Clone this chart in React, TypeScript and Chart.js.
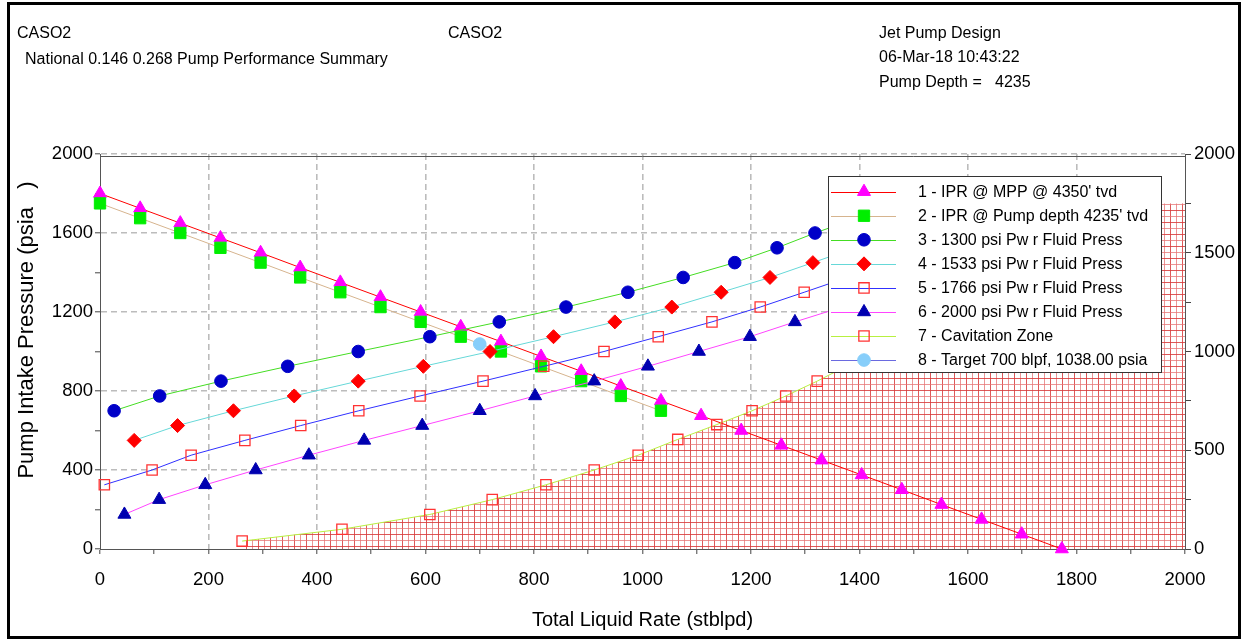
import React, { useEffect, useRef } from 'react';
import { Chart, registerables } from 'chart.js';

Chart.register(...registerables);

const FONT = "'Liberation Sans', Arial, Helvetica, sans-serif";

// ---------------- data ----------------
const iprMppRate = [0, 74, 148, 222, 296, 369, 443, 517, 591, 665, 739, 813, 887, 960, 1034, 1108, 1182, 1256, 1330, 1404, 1478, 1551, 1625, 1699, 1773];
const iprMppPressure = [1800, 1725, 1650, 1575, 1500, 1425, 1350, 1275, 1200, 1125, 1050, 975, 900, 825, 750, 675, 600, 525, 450, 375, 300, 225, 150, 75, 0];

const iprPumpRate = [0, 74, 148, 222, 296, 369, 443, 517, 591, 665, 739, 813, 887, 960, 1034];
const iprPumpPressure = [1750, 1675, 1600, 1525, 1450, 1375, 1300, 1225, 1150, 1075, 1000, 925, 850, 775, 700];

const pwf1300Rate = [26, 110, 223, 346, 476, 608, 736, 859, 973, 1075, 1170, 1248, 1318, 1395];
const pwf1300Pressure = [700, 775, 850, 925, 1000, 1075, 1150, 1225, 1300, 1375, 1450, 1525, 1600, 1675];

const pwf1533Rate = [63, 143, 246, 358, 476, 596, 719, 836, 949, 1054, 1145, 1235, 1314, 1392];
const pwf1533Pressure = [550, 625, 700, 775, 850, 925, 1000, 1075, 1150, 1225, 1300, 1375, 1450, 1525];

const pwf1766Rate = [8, 96, 168, 267, 370, 477, 590, 706, 818, 929, 1029, 1128, 1217, 1298, 1378];
const pwf1766Pressure = [325, 400, 475, 550, 625, 700, 775, 850, 925, 1000, 1075, 1150, 1225, 1300, 1375];

const pwf2000Rate = [45, 109, 194, 287, 385, 487, 594, 700, 802, 911, 1010, 1104, 1198, 1281, 1368];
const pwf2000Pressure = [175, 250, 325, 400, 475, 550, 625, 700, 775, 850, 925, 1000, 1075, 1150, 1225];

const cavitationRate = [262, 446, 608, 723, 822, 911, 992, 1065, 1137, 1202, 1264, 1322, 1400, 1560, 1700];
const cavitationPressure = [40, 100, 175, 250, 325, 400, 475, 555, 630, 700, 775, 850, 960, 1250, 1750];
const cavitationCap = 1750;

const targetRate = [700];
const targetPressure = [1038];

const seriesLabels = [
  "1 - IPR @ MPP @ 4350' tvd",
  "2 - IPR @ Pump depth 4235' tvd",
  '3 - 1300 psi Pw r Fluid Press',
  '4 - 1533 psi Pw r Fluid Press',
  '5 - 1766 psi Pw r Fluid Press',
  '6 - 2000 psi Pw r Fluid Press',
  '7 - Cavitation Zone',
  '8 - Target 700 blpf, 1038.00 psia',
];

const xTitle = 'Total Liquid Rate (stblpd)';
const yTitle = 'Pump Intake Pressure (psia   )';

// ---------------- helpers ----------------
type Style = 'triangle' | 'rect' | 'circle' | 'rectRot';

function drawMarker(ctx: CanvasRenderingContext2D, style: Style, x: number, y: number, r: number, fill: string, stroke: string, lw: number) {
  ctx.save();
  ctx.beginPath();
  if (style === 'triangle') {
    ctx.moveTo(x, y - r);
    ctx.lineTo(x + 0.866 * r, y + 0.5 * r);
    ctx.lineTo(x - 0.866 * r, y + 0.5 * r);
    ctx.closePath();
  } else if (style === 'rect') {
    const s = Math.SQRT1_2 * r;
    ctx.rect(x - s, y - s, 2 * s, 2 * s);
  } else if (style === 'rectRot') {
    ctx.moveTo(x - r, y);
    ctx.lineTo(x, y - r);
    ctx.lineTo(x + r, y);
    ctx.lineTo(x, y + r);
    ctx.closePath();
  } else {
    ctx.arc(x, y, r, 0, Math.PI * 2);
  }
  if (fill !== 'none') {
    ctx.fillStyle = fill;
    ctx.fill();
  }
  ctx.lineWidth = lw;
  ctx.strokeStyle = stroke;
  ctx.stroke();
  ctx.restore();
}

interface SeriesDef {
  rate: number[];
  pressure: number[];
  line: string;
  style: Style;
  fill: string;
  stroke: string;
  radius: number;
  lw: number;
  showLine: boolean;
}

const series: SeriesDef[] = [
  { rate: iprMppRate, pressure: iprMppPressure, line: '#ff0000', style: 'triangle', fill: '#ff00ff', stroke: '#ff00ff', radius: 7.5, lw: 1, showLine: true },
  { rate: iprPumpRate, pressure: iprPumpPressure, line: '#d6b48e', style: 'rect', fill: '#00ee00', stroke: '#00ee00', radius: 8, lw: 1, showLine: true },
  { rate: pwf1300Rate, pressure: pwf1300Pressure, line: '#44dd22', style: 'circle', fill: '#0000c8', stroke: '#0000c8', radius: 6.3, lw: 1, showLine: true },
  { rate: pwf1533Rate, pressure: pwf1533Pressure, line: '#66d8d8', style: 'rectRot', fill: '#ff0000', stroke: '#ff0000', radius: 7, lw: 1, showLine: true },
  { rate: pwf1766Rate, pressure: pwf1766Pressure, line: '#3030ff', style: 'rect', fill: 'none', stroke: '#ff3333', radius: 7.3, lw: 1.3, showLine: true },
  { rate: pwf2000Rate, pressure: pwf2000Pressure, line: '#ff44ff', style: 'triangle', fill: '#0000b0', stroke: '#0000b0', radius: 7.5, lw: 1, showLine: true },
  { rate: cavitationRate, pressure: cavitationPressure, line: '#b8f040', style: 'rect', fill: 'none', stroke: '#ff3333', radius: 7.3, lw: 1.3, showLine: true },
  { rate: targetRate, pressure: targetPressure, line: '#6a6ae0', style: 'circle', fill: '#87cefa', stroke: '#87cefa', radius: 6.3, lw: 1, showLine: false },
];

const zonePlugin = {
  id: 'cavitationZone',
  beforeDatasetsDraw(chart: any) {
    const { ctx, chartArea: a, scales } = chart;
    const x = scales.x;
    const y = scales.y;
    ctx.save();
    ctx.beginPath();
    ctx.rect(a.left, a.top, a.right - a.left, a.bottom - a.top);
    ctx.clip();
    ctx.beginPath();
    ctx.moveTo(x.getPixelForValue(cavitationRate[0]), y.getPixelForValue(0));
    for (let i = 0; i < cavitationRate.length; i++) {
      ctx.lineTo(x.getPixelForValue(cavitationRate[i]), y.getPixelForValue(cavitationPressure[i]));
    }
    ctx.lineTo(x.getPixelForValue(x.max), y.getPixelForValue(cavitationCap));
    ctx.lineTo(x.getPixelForValue(x.max), y.getPixelForValue(0));
    ctx.closePath();
    ctx.fillStyle = '#ffffff';
    ctx.fill();
    ctx.save();
    ctx.clip();
    ctx.lineWidth = 1;
    const step = 6;
    let k = 0;
    for (let gx = Math.round(a.left) + 2; gx <= a.right; gx += step, k++) {
      ctx.strokeStyle = k % 2 ? 'rgba(230,115,115,0.75)' : 'rgba(215,60,60,0.85)';
      ctx.beginPath();
      ctx.moveTo(gx + 0.5, a.top);
      ctx.lineTo(gx + 0.5, a.bottom);
      ctx.stroke();
    }
    k = 0;
    for (let gy = Math.round(a.bottom) - 3; gy >= a.top; gy -= step, k++) {
      ctx.strokeStyle = k % 2 ? 'rgba(230,115,115,0.75)' : 'rgba(215,60,60,0.85)';
      ctx.beginPath();
      ctx.moveTo(a.left, gy + 0.5);
      ctx.lineTo(a.right, gy + 0.5);
      ctx.stroke();
    }
    ctx.restore();
    ctx.strokeStyle = '#555';
    ctx.lineWidth = 1;
    ctx.stroke();
    ctx.restore();
  },
};

const overlayPlugin = {
  id: 'overlay',
  afterDraw(chart: any) {
    const { ctx } = chart;
    // y-axis title
    ctx.save();
    ctx.translate(27, 330);
    ctx.rotate(-Math.PI / 2);
    ctx.font = `22px ${FONT}`;
    ctx.fillStyle = '#000';
    ctx.textAlign = 'center';
    ctx.textBaseline = 'middle';
    ctx.fillText(yTitle, 0, 0);
    ctx.restore();

    // legend box
    const L = 828, T = 176, R = 1162, B = 373;
    ctx.save();
    ctx.fillStyle = '#ffffff';
    ctx.fillRect(L, T, R - L, B - T);
    ctx.strokeStyle = '#333';
    ctx.lineWidth = 1;
    ctx.strokeRect(L + 0.5, T + 0.5, R - L - 1, B - T - 1);
    ctx.font = `16px ${FONT}`;
    ctx.textBaseline = 'middle';
    ctx.textAlign = 'left';
    seriesLabels.forEach((label, i) => {
      const s = series[i];
      const ry = 191.7 + i * 24.05;
      ctx.strokeStyle = s.line;
      ctx.lineWidth = 1;
      ctx.beginPath();
      ctx.moveTo(831, Math.round(ry) + 0.5);
      ctx.lineTo(896, Math.round(ry) + 0.5);
      ctx.stroke();
      drawMarker(ctx, s.style, 864, ry, s.radius, s.fill, s.stroke, s.lw);
      ctx.fillStyle = '#000';
      ctx.fillText(label, 918, ry + 1);
    });
    ctx.restore();
  },
};

export default function App() {
  const canvasRef = useRef<HTMLCanvasElement>(null);

  useEffect(() => {
    const canvas = canvasRef.current;
    if (!canvas) return;

    const n = series.length;
    const datasets = series.map((s, i) => ({
      label: seriesLabels[i],
      data: s.rate.map((r, j) => ({ x: r, y: s.pressure[j] })),
      showLine: s.showLine,
      borderColor: s.line,
      borderWidth: 1,
      backgroundColor: s.fill === 'none' ? 'rgba(0,0,0,0)' : s.fill,
      pointStyle: s.style,
      pointRadius: s.radius,
      pointHoverRadius: s.radius,
      pointBackgroundColor: s.fill === 'none' ? 'rgba(0,0,0,0)' : s.fill,
      pointBorderColor: s.stroke,
      pointBorderWidth: s.lw,
      tension: 0,
      fill: false,
      clip: false as any,
      order: n - i,
    }));

    const tickFont = { family: FONT, size: 18.5 };

    const chart = new Chart(canvas, {
      type: 'scatter',
      data: { datasets },
      options: {
        responsive: false,
        maintainAspectRatio: false,
        animation: false,
        events: [],
        layout: { padding: { top: 154, left: 0, right: 0, bottom: 0 } },
        plugins: {
          legend: { display: false },
          tooltip: { enabled: false },
          title: { display: false },
        },
        scales: {
          x: {
            type: 'linear',
            position: 'bottom',
            min: 0,
            max: 2000,
            afterFit: (s: any) => { s.height = 91; },
            ticks: {
              stepSize: 100,
              autoSkip: false,
              maxRotation: 0,
              minRotation: 0,
              padding: 15,
              color: '#000',
              font: tickFont,
              callback: (v: any) => (Number(v) % 200 === 0 ? String(v) : ''),
            },
            grid: {
              color: (c: any) => {
                const v = c.tick ? c.tick.value : -1;
                return v % 200 === 0 && v > 0 && v < 2000 ? '#bcbcbc' : 'rgba(0,0,0,0)';
              },
              lineWidth: 1.6,
              tickLength: 5,
              tickColor: '#444',
              tickWidth: 1,
            },
            border: { display: true, color: '#555', width: 1, dash: [6, 4] },
            title: {
              display: true,
              text: xTitle,
              color: '#000',
              font: { family: FONT, size: 20 },
              padding: { top: 0, bottom: 8 },
            },
          },
          y: {
            type: 'linear',
            position: 'left',
            min: 0,
            max: 2000,
            afterFit: (s: any) => { s.width = 100; },
            ticks: {
              stepSize: 200,
              autoSkip: false,
              padding: 2,
              color: '#000',
              font: tickFont,
              callback: (v: any) => (Number(v) % 400 === 0 ? String(v) : ''),
            },
            grid: {
              color: (c: any) => {
                const v = c.tick ? c.tick.value : -1;
                return v % 400 === 0 && v > 0 ? '#bcbcbc' : 'rgba(0,0,0,0)';
              },
              lineWidth: 1.6,
              tickLength: 5,
              tickColor: '#444',
              tickWidth: 1,
            },
            border: { display: true, color: '#555', width: 1, dash: [6, 4] },
          },
          y2: {
            type: 'linear',
            position: 'right',
            min: 0,
            max: 2000,
            afterFit: (s: any) => { s.width = 58; },
            ticks: {
              stepSize: 250,
              autoSkip: false,
              padding: 3,
              color: '#000',
              font: tickFont,
              callback: (v: any) => (Number(v) % 500 === 0 ? String(v) : ''),
            },
            grid: {
              drawOnChartArea: false,
              tickLength: 6,
              tickColor: '#444',
              tickWidth: 1,
            },
            border: { display: true, color: '#555', width: 1 },
          },
        },
      } as any,
      plugins: [zonePlugin, overlayPlugin],
    });

    return () => chart.destroy();
  }, []);

  const textStyle: React.CSSProperties = {
    position: 'absolute',
    fontFamily: FONT,
    fontSize: 16,
    lineHeight: '18px',
    color: '#000',
    whiteSpace: 'pre',
  };

  return (
    <div style={{ position: 'absolute', left: 0, top: 0, width: 1243, height: 640, background: '#fff', overflow: 'hidden' }}>
      <canvas ref={canvasRef} width={1243} height={640} style={{ position: 'absolute', left: 0, top: 0, width: 1243, height: 640 }} />
      <div style={{ ...textStyle, left: 17, top: 24 }}>CASO2</div>
      <div style={{ ...textStyle, left: 25, top: 50 }}>National 0.146 0.268 Pump Performance Summary</div>
      <div style={{ ...textStyle, left: 448, top: 24 }}>CASO2</div>
      <div style={{ ...textStyle, left: 879, top: 24 }}>Jet Pump Design</div>
      <div style={{ ...textStyle, left: 879, top: 48 }}>06-Mar-18 10:43:22</div>
      <div style={{ ...textStyle, left: 879, top: 73 }}>{'Pump Depth =   4235'}</div>
      <div style={{ position: 'absolute', left: 7, top: 2, width: 1234, height: 637, border: '3px solid #000', boxSizing: 'border-box', pointerEvents: 'none' }} />
    </div>
  );
}
